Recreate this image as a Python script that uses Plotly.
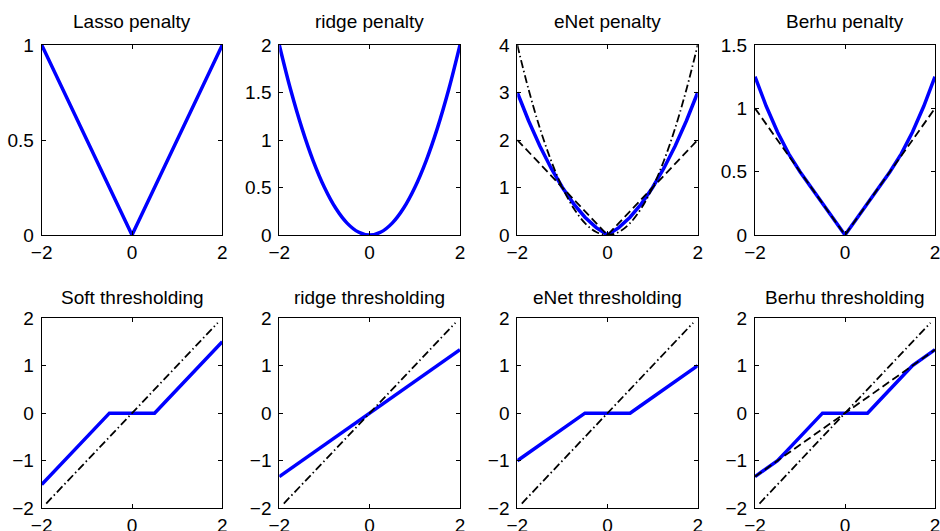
import plotly.graph_objects as go

# ---- data ----
x = [-2, -1.75, -1.5, -1.25, -1, -0.75, -0.5, -0.25, 0, 0.25, 0.5, 0.75, 1, 1.25, 1.5, 1.75, 2]

lasso_pen = [1, 0.875, 0.75, 0.625, 0.5, 0.375, 0.25, 0.125, 0, 0.125, 0.25, 0.375, 0.5, 0.625, 0.75, 0.875, 1]
ridge_pen = [2, 1.531, 1.125, 0.781, 0.5, 0.281, 0.125, 0.031, 0, 0.031, 0.125, 0.281, 0.5, 0.781, 1.125, 1.531, 2]
enet_pen = [3, 2.406, 1.875, 1.406, 1, 0.656, 0.375, 0.156, 0, 0.156, 0.375, 0.656, 1, 1.406, 1.875, 2.406, 3]
enet_abs = [2, 1.75, 1.5, 1.25, 1, 0.75, 0.5, 0.25, 0, 0.25, 0.5, 0.75, 1, 1.25, 1.5, 1.75, 2]
enet_sq = [4, 3.063, 2.25, 1.563, 1, 0.563, 0.25, 0.063, 0, 0.063, 0.25, 0.563, 1, 1.563, 2.25, 3.063, 4]
berhu_pen = [1.25, 1.016, 0.813, 0.641, 0.5, 0.375, 0.25, 0.125, 0, 0.125, 0.25, 0.375, 0.5, 0.641, 0.813, 1.016, 1.25]
berhu_ref = [1, 0.875, 0.75, 0.625, 0.5, 0.375, 0.25, 0.125, 0, 0.125, 0.25, 0.375, 0.5, 0.625, 0.75, 0.875, 1]

soft_thr = [-1.5, -1.25, -1, -0.75, -0.5, -0.25, 0, 0, 0, 0, 0, 0.25, 0.5, 0.75, 1, 1.25, 1.5]
ridge_thr = [-1.333, -1.167, -1, -0.833, -0.667, -0.5, -0.333, -0.167, 0, 0.167, 0.333, 0.5, 0.667, 0.833, 1, 1.167, 1.333]
enet_thr = [-1, -0.833, -0.667, -0.5, -0.333, -0.167, 0, 0, 0, 0, 0, 0.167, 0.333, 0.5, 0.667, 0.833, 1]
berhu_thr = [-1.333, -1.167, -1, -0.75, -0.5, -0.25, 0, 0, 0, 0, 0, 0.25, 0.5, 0.75, 1, 1.167, 1.333]
berhu_thr_ref = ridge_thr

id_x = [-1.9, 0, 1.9]
id_y = [-1.9, 0, 1.9]

titles_top = ["Lasso penalty", "ridge penalty", "eNet penalty", "Berhu penalty"]
titles_bot = ["Soft thresholding", "ridge thresholding", "eNet thresholding", "Berhu thresholding"]

x_ticks = [-2, 0, 2]
y_ticks_top = [[0, 0.5, 1], [0, 0.5, 1, 1.5, 2], [0, 1, 2, 3, 4], [0, 0.5, 1, 1.5]]
y_ranges_top = [[0, 1], [0, 2], [0, 4], [0, 1.5]]
y_ticks_bot = [-2, -1, 0, 1, 2]

# ---- layout geometry (viewport pixels) ----
W, H = 940, 531
col_px = [(41.7, 222.3), (279.3, 460.0), (517.3, 697.7), (755.0, 935.0)]
row_px = [(45.0, 235.0), (318.0, 508.3)]
title_y_px = [22, 297]

FONT = "Liberation Sans, Arial, Helvetica, sans-serif"
BLUE = "#0000ff"
DASH = "8px,4px"
DASHDOT = "8px,3px,1.5px,3px"


def fx(px):
    return px / W


def fy(py):
    return 1 - py / H


fig = go.Figure()

panels = [
    (0, 0, [(x, lasso_pen, "blue")]),
    (0, 1, [(x, ridge_pen, "blue_s")]),
    (0, 2, [(x, enet_pen, "blue"), (x, enet_abs, "dash"), (x, enet_sq, "dashdot_s")]),
    (0, 3, [(x, berhu_pen, "blue"), (x, berhu_ref, "dash")]),
    (1, 0, [(x, soft_thr, "blue"), (id_x, id_y, "dashdot")]),
    (1, 1, [(x, ridge_thr, "blue"), (id_x, id_y, "dashdot")]),
    (1, 2, [(x, enet_thr, "blue"), (id_x, id_y, "dashdot")]),
    (1, 3, [(x, berhu_thr, "blue"), (x, berhu_thr_ref, "dash"), (id_x, id_y, "dashdot")]),
]

layout = {}
for i, (r, c, series) in enumerate(panels):
    n = i + 1
    xa = "x" if n == 1 else f"x{n}"
    ya = "y" if n == 1 else f"y{n}"
    for xd, yd, st in series:
        shape = "spline" if st.endswith("_s") else "linear"
        base = st.replace("_s", "")
        if base == "blue":
            line = dict(color=BLUE, width=3.5, shape=shape)
        elif base == "dash":
            line = dict(color="black", width=1.8, dash=DASH, shape=shape)
        else:
            line = dict(color="black", width=1.8, dash=DASHDOT, shape=shape)
        fig.add_trace(go.Scatter(x=xd, y=yd, mode="lines", line=line,
                                 xaxis=xa, yaxis=ya, showlegend=False,
                                 hoverinfo="skip"))
    x0, x1 = col_px[c]
    y0, y1 = row_px[r]
    common = dict(showline=True, linecolor="black", linewidth=1, mirror="ticks",
                  ticks="inside", ticklen=4, tickcolor="black", tickwidth=1,
                  showgrid=False, zeroline=False, automargin=False,
                  ticklabeloverflow="allow",
                  tickfont=dict(family=FONT, size=19, color="black"))
    layout["xaxis" if n == 1 else f"xaxis{n}"] = dict(
        domain=[fx(x0), fx(x1)], anchor=ya,
        range=[-2, 2], tickvals=x_ticks, ticklabelstandoff=0, **common)
    if r == 0:
        yr = y_ranges_top[c]
        yt = y_ticks_top[c]
    else:
        yr = [-2, 2]
        yt = y_ticks_bot
    layout["yaxis" if n == 1 else f"yaxis{n}"] = dict(
        domain=[fy(y1), fy(y0)], anchor=xa,
        range=yr, tickvals=yt, ticklabelstandoff=3, **common)

annotations = []
for r, titles in enumerate([titles_top, titles_bot]):
    for c, t in enumerate(titles):
        x0, x1 = col_px[c]
        annotations.append(dict(text=t, xref="paper", yref="paper",
                                x=fx((x0 + x1) / 2), y=fy(title_y_px[r]),
                                xanchor="center", yanchor="middle", showarrow=False,
                                font=dict(family=FONT, size=19, color="black")))

fig.update_layout(**layout)
fig.update_layout(width=W, height=H, margin=dict(l=0, r=0, t=0, b=0),
                  paper_bgcolor="white", plot_bgcolor="white",
                  annotations=annotations, showlegend=False)

fig.write_html("out.html",
               config={"displayModeBar": False},
               post_script="document.body.style.margin='0';"
                           "document.body.style.overflow='hidden';")
